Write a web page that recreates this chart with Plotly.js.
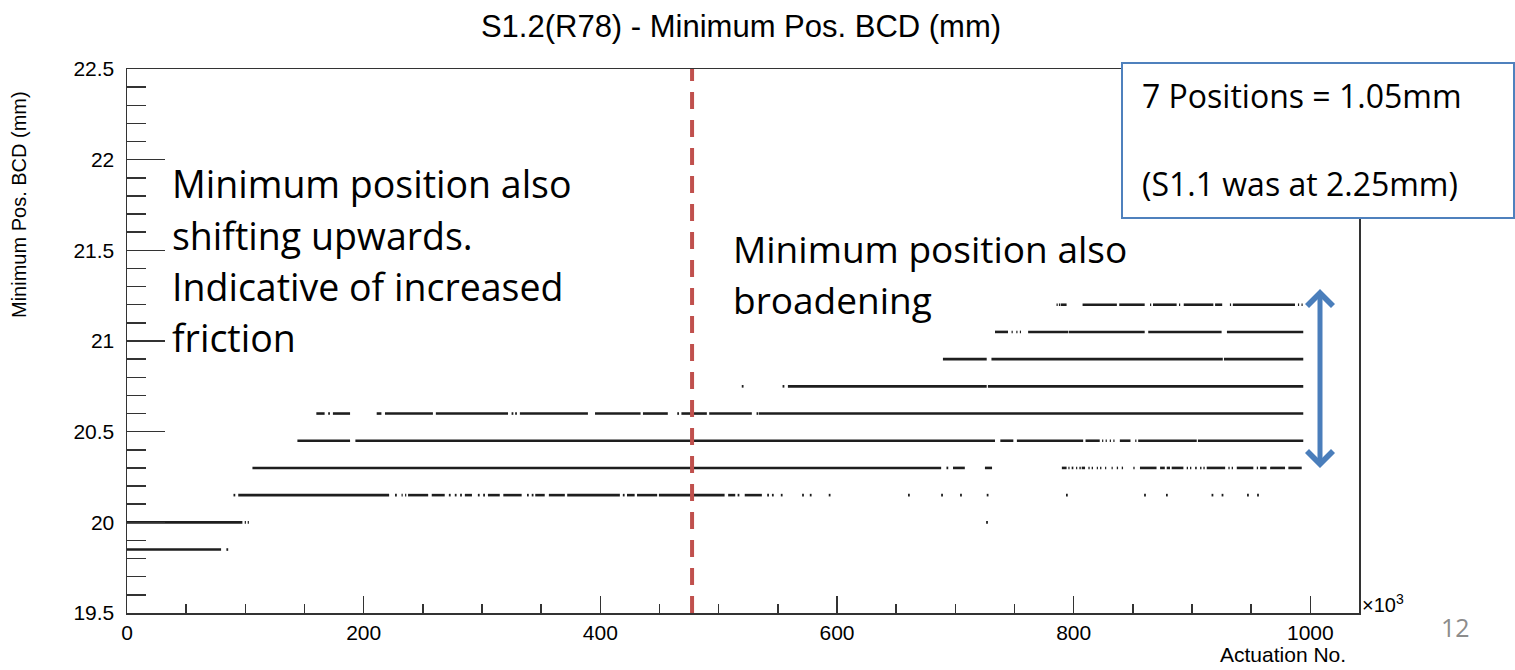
<!DOCTYPE html>
<html><head><meta charset="utf-8">
<script src="https://cdn.plot.ly/plotly-3.0.1.min.js"></script>
<style>html,body{margin:0;padding:0;background:#fff;}</style>
</head><body>
<div id="chart" style="width:1515px;height:670px;"></div>
<script>
// ---- data: minimum position levels (mm) and actuation ranges (x1000) ----
const levels = [19.85, 20.0, 20.15, 20.3, 20.45, 20.6, 20.75, 20.9, 21.05, 21.2];

const seg_1985 = [[0,79.5],[84,85.5]];
const seg_2000 = [[0,97.5],[99.5,100.5],[102,103],[726,727.5]];
const seg_2015 = [[90,91.5],[94,221.5],[226.5,228],[232,233],[235,236],[237.5,254.5],[257.5,268.5],[272,273.5],[277,278.5],[281.5,283],[285.5,291.5],[296.5,298],[301,302.5],[305,315],[318,333.5],[338,339.5],[342,343.5],[345,353],[356.5,370],[372,416.5],[419,420.5],[422.5,429],[431,448],[449.5,505],[508,514],[516,517.5],[522,536.5],[541,542.5],[545,546.5],[552.5,554],[570.5,572],[577,578.5],[593,594.5],[660,661.5],[688,689.5],[704,705.5],[726.5,728],[793.5,795],[859.5,861],[878,879.5],[916.5,918],[925,926.5],[946.5,948],[955,956.5]];
const seg_2030 = [[106,688],[692.5,694],[698,708],[725,731],[790,794],[795.5,796.5],[798.3,799.7],[802,803],[804.8,806],[806.8,809.6],[812.4,813.5],[815.2,816.3],[819.5,820.5],[822.3,823.4],[826.5,827.5],[832,833],[836.4,837.5],[840.6,841.7],[850.4,851.5],[856,870],[873,877],[878.6,881.4],[882.8,892.7],[895.5,896.6],[898.3,899.4],[902.6,904],[906.8,908],[909.6,910.7],[912.4,928],[930.7,931.8],[933.5,934.6],[937.8,951.8],[954.7,955.8],[957.5,963],[966,978.6],[981.4,992.7]];
const seg_2045 = [[144,188.5],[193,733.5],[738,749],[752,808],[810,822],[824,825],[827,828],[830.5,831.5],[833.5,834.5],[839,848],[852,853],[854.5,904],[905,994]];
const seg_2060 = [[160,167],[170,171.5],[174,188.5],[211,215],[218,258.5],[261,322],[325,326.5],[328,329.5],[332,389.5],[395.5,434],[436,457],[465,466.5],[468.5,490],[492,528],[532,533.5],[534,994]];
const seg_2075 = [[519.5,521],[554,555.5],[558.5,726.5],[727.5,994]];
const seg_2090 = [[689.5,726.5],[730.5,926],[927,994]];
const seg_2105 = [[733.5,744.5],[747.5,748.5],[751.5,752.5],[754.5,755.5],[761.5,795.5],[796,860],[863,925],[929.5,994]];
const seg_2120 = [[785.5,786.5],[787.5,788.5],[789,794],[807.5,836.5],[838.5,860],[864.5,865.5],[867,887],[889,890],[893,918],[919.5,925.5],[932,933],[934.5,987],[989.5,990.5],[992.5,993.5]];

const segments = [seg_1985, seg_2000, seg_2015, seg_2030, seg_2045, seg_2060, seg_2075, seg_2090, seg_2105, seg_2120];

const changeX = 477.5;          // dashed marker (x1000 actuations)
const xTickVals = [0, 200, 400, 600, 800, 1000];
const yTickVals = [19.5, 20, 20.5, 21, 21.5, 22, 22.5];

const titleText = 'S1.2(R78) - Minimum Pos. BCD (mm)';
const yTitleText = 'Minimum Pos. BCD (mm)';
const xTitleText = 'Actuation No.';
const noteLeft = ['Minimum position also', 'shifting upwards.', 'Indicative of increased', 'friction'];
const noteMid = ['Minimum position also', 'broadening'];
const noteBox = ['7 Positions = 1.05mm', '(S1.1 was at 2.25mm)'];

// ---- build traces ----
const traces = levels.map((lv, i) => {
  const xs = [], ys = [];
  segments[i].forEach(s => { xs.push(s[0], s[1], null); ys.push(lv, lv, null); });
  return {x: xs, y: ys, type: 'scatter', mode: 'lines', name: String(lv),
          line: {color: '#1e1e1e', width: 2.6}, connectgaps: false, hoverinfo: 'skip'};
});

// ---- layout helpers (pixel -> paper) ----
const W = 1515, H = 670, ML = 127, MR = 156, MT = 69, MB = 57;
const PW = W - ML - MR, PH = H - MT - MB;
const px = p => (p - ML) / PW;
const py = p => (H - MB - p) / PH;

const rootFont = 'Liberation Sans, Arial, Helvetica, sans-serif';
const noteFont = 'Open Sans, Lato, sans-serif';

const ann = [];
noteLeft.forEach((t, i) => ann.push({text: t, xref: 'paper', yref: 'paper', x: px(170), y: py([183, 235, 286, 337][i]),
  xanchor: 'left', yanchor: 'middle', showarrow: false, font: {family: noteFont, size: 37.5, color: '#000'}}));
noteMid.forEach((t, i) => ann.push({text: t, xref: 'paper', yref: 'paper', x: px(731), y: py([248, 299][i]),
  xanchor: 'left', yanchor: 'middle', showarrow: false, font: {family: noteFont, size: 37, color: '#000'}}));
noteBox.forEach((t, i) => ann.push({text: t, xref: 'paper', yref: 'paper', x: px(1140), y: py([95, 183][i]),
  xanchor: 'left', yanchor: 'middle', showarrow: false, font: {family: noteFont, size: 32, color: '#000'}}));

ann.push({text: yTitleText, xref: 'paper', yref: 'paper', x: px(19), y: py(205), textangle: -90,
  xanchor: 'center', yanchor: 'middle', showarrow: false, font: {family: rootFont, size: 20, color: '#000'}});
ann.push({text: xTitleText, xref: 'paper', yref: 'paper', x: px(1348), y: py(654),
  xanchor: 'right', yanchor: 'middle', showarrow: false, font: {family: rootFont, size: 21, color: '#000'}});
ann.push({text: '×10<sup>3</sup>', xref: 'paper', yref: 'paper', x: px(1360), y: py(603),
  xanchor: 'left', yanchor: 'middle', showarrow: false, font: {family: rootFont, size: 20, color: '#000'}});
ann.push({text: '12', xref: 'paper', yref: 'paper', x: px(1455), y: py(627),
  xanchor: 'center', yanchor: 'middle', showarrow: false, font: {family: noteFont, size: 25, color: '#8c8c8c'}});
// double-headed blue arrow
ann.push({text: ' ', xref: 'paper', yref: 'paper', x: px(1320), y: py(289), ax: 0, ay: 189,
  showarrow: true, arrowside: 'end+start', arrowhead: 4, startarrowhead: 4, arrowsize: 1.0, startarrowsize: 1.0,
  arrowwidth: 5, arrowcolor: '#4a7ebb', standoff: 0, startstandoff: 0});

const layout = {
  width: W, height: H,
  margin: {l: ML, r: MR, t: MT, b: MB, pad: 0},
  paper_bgcolor: '#fff', plot_bgcolor: '#fff',
  showlegend: false,
  title: {text: titleText, x: px(741), xref: 'paper', xanchor: 'center', y: 1 - 26 / H, yref: 'container', yanchor: 'middle',
          font: {family: rootFont, size: 31, color: '#000'}},
  xaxis: {range: [0, 1041.1], tickvals: xTickVals, ticktext: xTickVals.map(String), ticks: 'inside', ticklen: 17, tickwidth: 1.5,
          tickcolor: '#333', showline: true, mirror: true, linecolor: '#333', linewidth: 1.5,
          showgrid: false, zeroline: false, ticklabelstandoff: 0,
          tickfont: {family: rootFont, size: 21, color: '#000'},
          minor: {dtick: 50, tick0: 0, ticks: 'inside', ticklen: 9, tickwidth: 1.5, tickcolor: '#333', showgrid: false}},
  yaxis: {range: [19.5, 22.5], tickvals: yTickVals, ticktext: yTickVals.map(String), ticks: 'inside', ticklen: 38, tickwidth: 1.5,
          tickcolor: '#333', showline: true, mirror: true, linecolor: '#333', linewidth: 1.5,
          showgrid: false, zeroline: false, ticklabelstandoff: 7,
          tickfont: {family: rootFont, size: 21, color: '#000'},
          minor: {dtick: 0.1, tick0: 19.5, ticks: 'inside', ticklen: 19, tickwidth: 1.5, tickcolor: '#333', showgrid: false}},
  shapes: [
    {type: 'line', xref: 'x', yref: 'paper', x0: changeX, x1: changeX, y0: 0, y1: 1, layer: 'above',
     line: {color: '#c0504d', width: 4, dash: '17px,11px'}},
    {type: 'rect', xref: 'paper', yref: 'paper', x0: px(1122), x1: px(1514), y0: py(218), y1: py(63), layer: 'above',
     fillcolor: '#ffffff', line: {color: '#4f81bd', width: 2}}
  ],
  annotations: ann
};

Plotly.newPlot('chart', traces, layout, {displayModeBar: false, staticPlot: true});
</script>
</body></html>
